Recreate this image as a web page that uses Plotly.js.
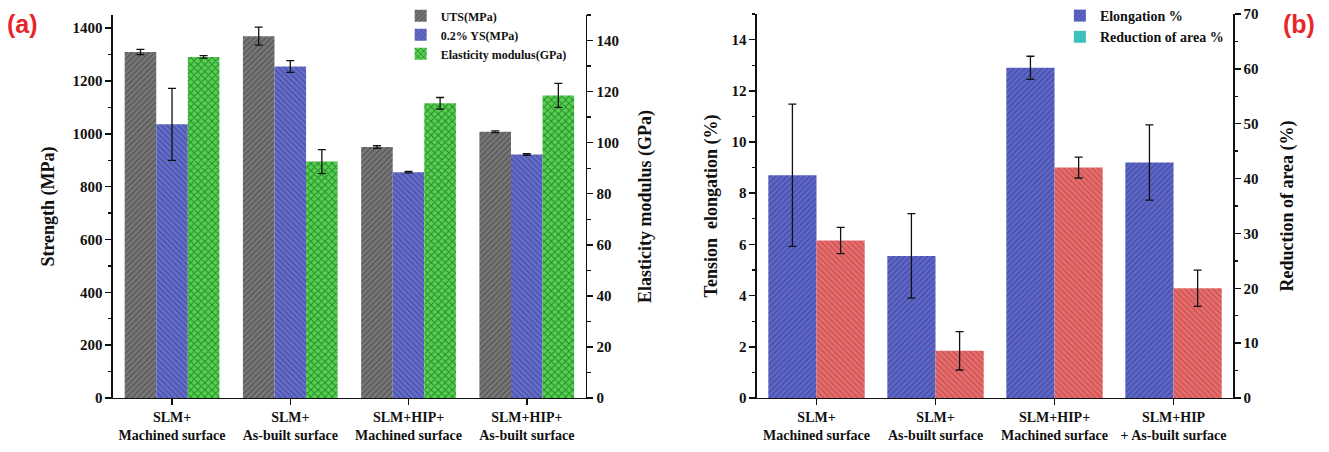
<!DOCTYPE html>
<html>
<head>
<meta charset="utf-8">
<script src="https://cdn.plot.ly/plotly-3.0.1.min.js"></script>
<style>html,body{margin:0;padding:0;background:#fff;}#chart{width:1329px;height:452px;}</style>
</head>
<body>
<div id="chart"></div>
<script>
// ---- Data (a) ----
var categoriesA = ["SLM+<br>Machined surface", "SLM+<br>As-built surface", "SLM+HIP+<br>Machined surface", "SLM+HIP+<br>As-built surface"];
var utsValues = [1310, 1370, 950, 1008];
var utsErrors = [10, 34, 5, 3];
var ysValues = [1036, 1255, 855, 922];
var ysErrors = [136, 22, 3, 3];
var modulusValues = [133.6, 92.6, 115.4, 118.5];
var modulusErrors = [0.5, 4.7, 2.3, 4.7];

// ---- Data (b) ----
var categoriesB = ["SLM+<br>Machined surface", "SLM+<br>As-built surface", "SLM+HIP+<br>Machined surface", "SLM+HIP<br>+ As-built surface"];
var elongValues = [8.7, 5.55, 12.9, 9.2];
var elongErrors = [2.78, 1.65, 0.45, 1.47];
var areaValues = [28.7, 8.6, 42.0, 20.0];
var areaErrors = [2.4, 3.5, 1.9, 3.3];
var legendOnlyValues = [null, null, null, null];

var serif = "Liberation Serif, Times New Roman, serif";
var errStyle = function (arr) {
  return {type: "data", array: arr, visible: true, color: "#111", thickness: 1.3, width: 4};
};

var traces = [
  {type: "bar", name: "UTS(MPa)", x: categoriesA, y: utsValues, xaxis: "x", yaxis: "y",
   width: 0.267, offset: -0.401, error_y: errStyle(utsErrors),
   marker: {color: "#737373", line: {width: 0}, pattern: {shape: "/", fgcolor: "#525252", bgcolor: "#787878", size: 4, solidity: 0.3}},
   legend: "legend"},
  {type: "bar", name: "0.2% YS(MPa)", x: categoriesA, y: ysValues, xaxis: "x", yaxis: "y",
   width: 0.267, offset: -0.134, error_y: errStyle(ysErrors),
   marker: {color: "#6169c4", line: {width: 0}, pattern: {shape: "\\", fgcolor: "#454ca6", bgcolor: "#666ec8", size: 4, solidity: 0.3}},
   legend: "legend"},
  {type: "bar", name: "Elasticity modulus(GPa)", x: categoriesA, y: modulusValues, xaxis: "x", yaxis: "y2",
   width: 0.267, offset: 0.133, error_y: errStyle(modulusErrors),
   marker: {color: "#4cc44a", line: {width: 0}, pattern: {shape: "x", fgcolor: "#238a26", bgcolor: "#58cf52", size: 5, solidity: 0.35}},
   legend: "legend"},

  {type: "bar", name: "Elongation %", x: categoriesB, y: elongValues, xaxis: "x2", yaxis: "y3",
   width: 0.405, offset: -0.405, error_y: errStyle(elongErrors),
   marker: {color: "#5a63c2", line: {width: 0}, pattern: {shape: "/", fgcolor: "#434aa6", bgcolor: "#5f68c6", size: 4, solidity: 0.3}},
   legend: "legend2"},
  {type: "bar", name: "Reduction of area %", x: categoriesB, y: areaValues, xaxis: "x2", yaxis: "y4",
   width: 0.405, offset: 0.0, error_y: errStyle(areaErrors), showlegend: false,
   marker: {color: "#e46a6a", line: {width: 0}, pattern: {shape: "\\", fgcolor: "#c44e50", bgcolor: "#e86e6e", size: 4, solidity: 0.3}},
   legend: "legend2"},
  {type: "bar", name: "Reduction of area %", x: categoriesB, y: legendOnlyValues, xaxis: "x2", yaxis: "y4",
   width: 0.405, offset: 0.0, showlegend: true,
   marker: {color: "#3fc0bd", line: {width: 0}},
   legend: "legend2"}
];

var axisCommon = {
  showline: true, linecolor: "#111", linewidth: 1.5, mirror: false,
  ticks: "outside", ticklen: 6, tickwidth: 1.5, tickcolor: "#111",
  showgrid: false, zeroline: false,
  tickfont: {family: serif, size: 15, color: "#111", weight: "bold"}
};
function ax(extra) { return Object.assign({}, JSON.parse(JSON.stringify(axisCommon)), extra); }
var titleFont = {family: serif, size: 18, color: "#111", weight: "bold"};
var catFont = {family: serif, size: 14, color: "#111", weight: "bold"};
var minorY = function (d) { return {ticks: "outside", ticklen: 3.5, tickwidth: 1.3, tickcolor: "#111", dtick: d}; };

var layout = {
  width: 1329, height: 452,
  margin: {l: 0, r: 0, t: 0, b: 0},
  paper_bgcolor: "#fff", plot_bgcolor: "rgba(0,0,0,0)",
  barmode: "overlay",
  font: {family: serif, color: "#111"},
  xaxis: ax({domain: [0.0850, 0.4409], anchor: "y", type: "category", range: [-0.5, 3.5], tickfont: catFont}),
  yaxis: ax({domain: [0.1195, 0.9668], anchor: "x", range: [0, 1450], dtick: 200, minor: minorY(100),
    title: {text: "Strength (MPa)", font: titleFont, standoff: 13}}),
  yaxis2: ax({overlaying: "y", side: "right", anchor: "x", range: [0, 150], dtick: 20, minor: minorY(10),
    title: {text: "Elasticity modulus (GPa)", font: titleFont, standoff: 20}}),
  xaxis2: ax({domain: [0.5696, 0.9278], anchor: "y3", type: "category", range: [-0.5, 3.5], tickfont: catFont}),
  xaxis3: {overlaying: "x2", anchor: "y3", type: "linear", range: [-0.5, 3.5], showline: false, showgrid: false, zeroline: false,
    tickmode: "array", tickvals: [-0.5, 0.5, 1.5, 2.5, 3.5], ticks: "outside", ticklen: 3.5, tickwidth: 1.3, tickcolor: "#111", showticklabels: false},
  yaxis3: ax({domain: [0.1195, 0.9690], anchor: "x2", range: [0, 15], dtick: 2, minor: minorY(1),
    title: {text: "Tension  elongation (%)", font: titleFont, standoff: 9}}),
  yaxis4: ax({overlaying: "y3", side: "right", anchor: "x2", range: [0, 70], dtick: 10, minor: minorY(5),
    title: {text: "Reduction of area (%)", font: titleFont, standoff: 23}}),
  legend: {x: 0.3015, y: 0.997, xanchor: "left", yanchor: "top", bgcolor: "rgba(0,0,0,0)",
    font: {family: serif, size: 12, color: "#111", weight: "bold"}, tracegroupgap: 0, itemwidth: 30},
  legend2: {x: 0.7975, y: 1.0, xanchor: "left", yanchor: "top", bgcolor: "rgba(0,0,0,0)",
    font: {family: serif, size: 14, color: "#111", weight: "bold"}, tracegroupgap: 0, itemwidth: 30},
  annotations: [
    {text: "(a)", xref: "paper", yref: "paper", x: 5 / 1329, y: 1 - 8 / 452, xanchor: "left", yanchor: "top", showarrow: false,
     font: {family: "Liberation Sans, Arial, sans-serif", size: 25, color: "#e8262a", weight: "bold"}},
    {text: "(b)", xref: "paper", yref: "paper", x: 1281 / 1329, y: 1 - 8 / 452, xanchor: "left", yanchor: "top", showarrow: false,
     font: {family: "Liberation Sans, Arial, sans-serif", size: 25, color: "#e8262a", weight: "bold"}}
  ]
};

Plotly.newPlot("chart", traces, layout, {displayModeBar: false, staticPlot: true});
</script>
</body>
</html>
